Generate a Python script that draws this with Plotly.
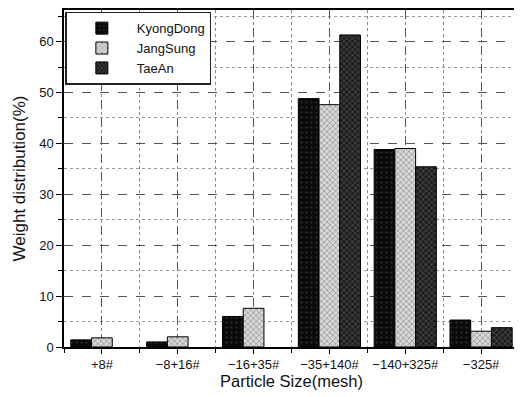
import plotly.graph_objects as go

categories = ["+8#", "\u22128+16#", "\u221216+35#", "\u221235+140#", "\u2212140+325#", "\u2212325#"]
kyongdong = [1.4, 1.0, 6.0, 48.8, 38.8, 5.3]
jangsung = [1.8, 2.0, 7.6, 47.6, 39.0, 3.1]
taean = [None, None, None, 61.3, 35.4, 3.8]

xpos = list(range(len(categories)))

fig = go.Figure()
fig.add_trace(go.Bar(
    name="KyongDong", x=xpos, y=kyongdong,
    marker=dict(color="#0a0a0a", line=dict(color="black", width=1),
                pattern=dict(shape=".", fgcolor="#555555", size=5, solidity=0.15)),
))
fig.add_trace(go.Bar(
    name="JangSung", x=xpos, y=jangsung,
    marker=dict(color="#d8d8d8", line=dict(color="black", width=1),
                pattern=dict(shape="x", fgcolor="#6a6a6a", bgcolor="#d8d8d8", size=4, solidity=0.4)),
))
fig.add_trace(go.Bar(
    name="TaeAn", x=xpos, y=taean,
    marker=dict(color="#2a2a2a", line=dict(color="black", width=1),
                pattern=dict(shape="x", fgcolor="#909090", bgcolor="#1e1e1e", size=4, solidity=0.3)),
))

fig.update_layout(
    width=514, height=389,
    margin=dict(l=56, r=3, t=0, b=50),
    paper_bgcolor="white", plot_bgcolor="white",
    barmode="group", bargap=0.18, bargroupgap=0,
    font=dict(family="Liberation Sans, Arial, sans-serif", size=13, color="#111"),
    showlegend=True,
    legend=dict(x=0.003, y=0.995, xanchor="left", yanchor="top",
                bordercolor="#222", borderwidth=1.5, bgcolor="white",
                font=dict(size=13), itemwidth=60, tracegroupgap=0),
    xaxis=dict(
        range=[-0.5, 5.5], tickmode="array", tickvals=xpos, ticktext=categories,
        showline=True, linecolor="black", linewidth=1.5, mirror=True,
        ticks="outside", ticklen=5, tickcolor="black",
        showgrid=True, gridcolor="#555", griddash="dash", gridwidth=1,
        minor=dict(dtick=0.5, tick0=0.5, showgrid=True, gridcolor="#888", griddash="dot",
                   ticks="outside", ticklen=4, tickcolor="black"),
        title=dict(text="Particle Size(mesh)", font=dict(size=16.5), standoff=4),
        zeroline=False,
    ),
    yaxis=dict(
        range=[0, 66.2], tickmode="linear", tick0=0, dtick=10,
        showline=True, linecolor="black", linewidth=1.5, mirror=True,
        ticks="outside", ticklen=6, tickcolor="black",
        showgrid=True, gridcolor="#555", griddash="dash", gridwidth=1,
        minor=dict(dtick=5, showgrid=True, gridcolor="#999", griddash="dot",
                   ticks="outside", ticklen=4, tickcolor="black"),
        title=dict(text="Weight distribution(%)", font=dict(size=17), standoff=9),
        zeroline=False,
    ),
)

fig.write_html("out.html")
